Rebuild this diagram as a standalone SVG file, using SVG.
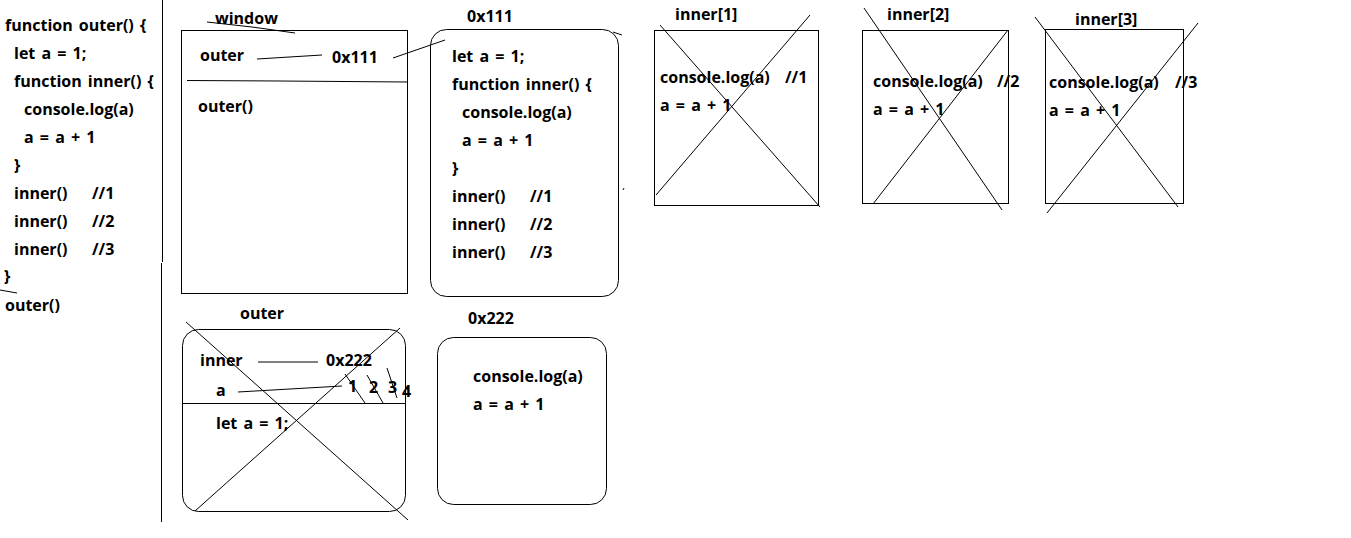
<svg xmlns="http://www.w3.org/2000/svg" width="1351" height="538" viewBox="0 0 1351 538">
<style>
text{font-family:"Open Sans","Noto Sans","Liberation Sans",sans-serif;font-weight:bold;font-size:16px;fill:#000;word-spacing:2px}
.b{fill:none;stroke:#000;stroke-width:1}
.l{stroke:#000;stroke-width:1;fill:none}
</style>
<rect width="1351" height="538" fill="#fff"/>
<g id="code">
<text x="5" y="31">function outer() {</text>
<text x="14" y="59">let a = 1;</text>
<text x="14" y="87">function inner() {</text>
<text x="24" y="115">console.log(a)</text>
<text x="24" y="143">a = a + 1</text>
<text x="14" y="171">}</text>
<text x="14" y="199">inner()</text><text x="92" y="199">//1</text>
<text x="14" y="227">inner()</text><text x="92" y="227">//2</text>
<text x="14" y="255">inner()</text><text x="92" y="255">//3</text>
<text x="4" y="282">}</text>
<text x="5" y="311">outer()</text>
</g>
<g id="window">
<text x="215" y="24">window</text>
<rect class="b" x="181.5" y="30.5" width="226" height="263"/>
<text x="200" y="61">outer</text>
<text x="332" y="63">0x111</text>
<text x="198" y="112">outer()</text>
</g>
<g id="heap0x111">
<text x="467" y="22">0x111</text>
<rect class="b" x="430.5" y="29.5" width="188" height="267" rx="16"/>
<text x="452" y="62">let a = 1;</text>
<text x="452" y="90">function inner() {</text>
<text x="462" y="118">console.log(a)</text>
<text x="462" y="146">a = a + 1</text>
<text x="452" y="174">}</text>
<text x="452" y="202">inner()</text><text x="530" y="202">//1</text>
<text x="452" y="230">inner()</text><text x="530" y="230">//2</text>
<text x="452" y="258">inner()</text><text x="530" y="258">//3</text>
</g>
<g id="inner1">
<text x="675" y="20">inner[1]</text>
<rect class="b" x="654.5" y="30.5" width="164" height="175"/>
<text x="660" y="83">console.log(a)</text><text x="785" y="83">//1</text>
<text x="660" y="111">a = a + 1</text>
</g>
<g id="inner2">
<text x="887" y="20">inner[2]</text>
<rect class="b" x="862.5" y="30.5" width="146" height="173"/>
<text x="873" y="87">console.log(a)</text><text x="997" y="87">//2</text>
<text x="873" y="115">a = a + 1</text>
</g>
<g id="inner3">
<text x="1075" y="25">inner[3]</text>
<rect class="b" x="1045.5" y="29.5" width="138" height="174"/>
<text x="1049" y="88">console.log(a)</text><text x="1175" y="88">//3</text>
<text x="1049" y="116">a = a + 1</text>
</g>
<g id="outerScope">
<text x="240" y="319">outer</text>
<rect class="b" x="182.5" y="329.5" width="223" height="182" rx="16"/>
<text x="200" y="366">inner</text>
<text x="326" y="366">0x222</text>
<text x="216" y="396">a</text>
<text x="348" y="392">1</text>
<text x="369" y="393">2</text>
<text x="388" y="393">3</text>
<text x="402" y="397">4</text>
<text x="216" y="429">let a = 1;</text>
</g>
<g id="heap0x222">
<text x="468" y="324">0x222</text>
<rect class="b" x="437.5" y="337.5" width="169" height="167" rx="16"/>
<text x="473" y="382">console.log(a)</text>
<text x="473" y="410">a = a + 1</text>
</g>
<g id="connectors">
<path class="l" d="M162.5 0V262M161.5 263V522"/>
<path class="l" d="M0 290L17 293"/>
<path class="l" d="M207 22L252 27L295 33"/>
<path class="l" d="M187 80.5L280 81L407 82"/>
<path class="l" d="M257 59L322 55"/>
<path class="l" d="M393 58L445 40"/>
<path class="l" d="M613 32L622 35M623 190L624 188"/>
<path class="l" d="M660 25L820 207M810 15L656 195"/>
<path class="l" d="M864 8L1002 210M1008 30L873 204"/>
<path class="l" d="M1035 17L1178 207M1198 23L1047 213"/>
<path class="l" d="M182 403.5H406"/>
<path class="l" d="M258 362H318"/>
<path class="l" d="M238 392L342 386"/>
<path class="l" d="M345 374L365 403M367 375L383 403M387 368L397 398"/>
<path class="l" d="M186 322L408 520M400 328L195 511"/>
</g>
</svg>
